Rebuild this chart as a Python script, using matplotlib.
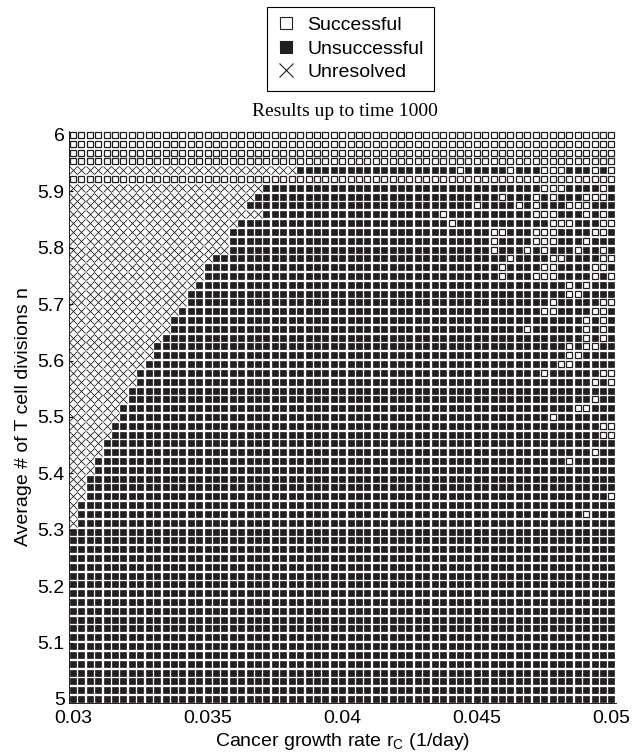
# Outcome map: cancer growth rate vs average number of T cell divisions

import numpy as np
import matplotlib.pyplot as plt
from matplotlib.lines import Line2D

plt.rcParams["font.family"] = ["Liberation Sans", "DejaVu Sans"]

# Parameter grid (65 x 65), row 0 is the top row (n = 6)
rc_values = np.linspace(0.03, 0.05, 65)
n_values = np.linspace(6, 5, 65)

# Rows where every run was successful
all_successful_rows = [0, 1, 2, 3, 5]

# Number of unresolved columns at the left end of each row (top to bottom)
unresolved_cols = [
    0, 0, 0, 0, 27, 0, 23, 22, 21, 23, 20, 19, 19, 19, 17, 16, 16, 15,
    14, 14, 13, 12, 12, 11, 10, 10, 9, 8, 8, 7, 7, 6, 6, 5, 5, 4,
    4, 3, 3, 2, 2, 2, 1, 1, 1, 0,
    0, 0, 0, 0, 0, 0, 0, 0, 0, 0, 0, 0, 0, 0, 0, 0, 0, 0, 0,
]

# Successful runs scattered inside the unsuccessful region: row -> columns
successful_cells = {
    4: [46, 52, 56, 57, 58, 62, 64],
    6: [56, 57, 58, 63],
    7: [51, 55, 57, 61, 62, 63],
    8: [48, 53, 55, 59, 60, 61],
    9: [44, 55, 56, 57, 61, 63],
    10: [45, 57, 58, 59, 63, 64],
    11: [50, 51, 55, 56, 57, 62, 63],
    12: [50, 55, 56, 57, 61],
    13: [50, 54, 56, 60, 63],
    14: [52, 57, 58, 63, 64],
    15: [51, 56, 57, 62, 63],
    16: [51, 55, 56, 57, 62, 64],
    17: [59, 61],
    18: [59, 60],
    19: [57, 63, 64],
    20: [56, 57, 62, 63],
    21: [61, 63],
    22: [54, 61, 63],
    23: [61, 63],
    24: [59, 61, 62],
    25: [59, 60],
    26: [58, 59],
    27: [56, 63, 64],
    28: [62, 64],
    30: [62],
    31: [60, 61],
    32: [57],
    33: [63, 64],
    34: [63, 64],
    36: [62],
    37: [59],
    41: [64],
    43: [61],
}

# 0 = successful, 1 = unsuccessful, 2 = unresolved
status = np.ones((len(n_values), len(rc_values)), dtype=int)
for r in range(len(n_values)):
    if r in all_successful_rows:
        status[r, :] = 0
        continue
    status[r, : unresolved_cols[r]] = 2
    for c in successful_cells.get(r, []):
        status[r, c] = 0

RC, N = np.meshgrid(rc_values, n_values)
dark = "#231f20"

fig = plt.figure(figsize=(6.33, 7.56), dpi=100)
ax = fig.add_axes([0.1087, 0.0696, 0.8638, 0.7577])

ok = status == 0
bad = status == 1
unres = status == 2
ax.plot(RC[bad], N[bad], "s", ms=5.0, mfc=dark, mec=dark, mew=0.5, ls="none")
ax.plot(RC[ok], N[ok], "s", ms=4.7, mfc="white", mec=dark, mew=0.9, ls="none")
ax.plot(RC[unres], N[unres], "x", ms=5.2, mec=dark, mew=0.6, ls="none")

dx = (rc_values[1] - rc_values[0]) / 2
dy = (n_values[0] - n_values[1]) / 2
ax.set_xlim(0.03 - dx, 0.05 + dx)
ax.set_ylim(5 - dy, 6 + dy)
ax.set_xticks([0.03, 0.035, 0.04, 0.045, 0.05])
ax.set_xticklabels(["0.03", "0.035", "0.04", "0.045", "0.05"])
ax.set_yticks(np.round(np.arange(5, 6.01, 0.1), 1))
ax.set_yticklabels(["5", "5.1", "5.2", "5.3", "5.4", "5.5", "5.6", "5.7", "5.8", "5.9", "6"])
ax.tick_params(direction="in", length=3, labelsize=14)
ax.tick_params(axis="x", pad=5)
ax.tick_params(axis="y", pad=3)
for side in ["top", "right"]:
    ax.spines[side].set_visible(False)
for side in ["left", "bottom"]:
    ax.spines[side].set_linewidth(0.6)

ax.set_xlabel("Cancer growth rate r$_\\mathregular{C}$ (1/day)", fontsize=14, labelpad=3)
ax.set_ylabel("Average # of T cell divisions n", fontsize=14, labelpad=4)

fig.text(0.545, 0.853, "Results up to time 1000", family="Liberation Serif",
         fontsize=14, ha="center", va="center")

handles = [
    Line2D([], [], marker="s", ls="none", ms=9, mfc="white", mec=dark, mew=0.8),
    Line2D([], [], marker="s", ls="none", ms=9, mfc=dark, mec=dark, mew=0.8),
    Line2D([], [], marker="x", ls="none", ms=10, mec=dark, mew=0.8),
]
leg = fig.legend(handles, ["Successful", "Unsuccessful", "Unresolved"],
                 loc="upper center", bbox_to_anchor=(0.553, 0.991), fontsize=14,
                 fancybox=False, edgecolor="black", framealpha=1,
                 handlelength=1.0, handletextpad=0.6, labelspacing=0.3,
                 borderpad=0.5, borderaxespad=0)
leg.get_frame().set_linewidth(0.8)

fig.savefig("out.png", dpi=100)
